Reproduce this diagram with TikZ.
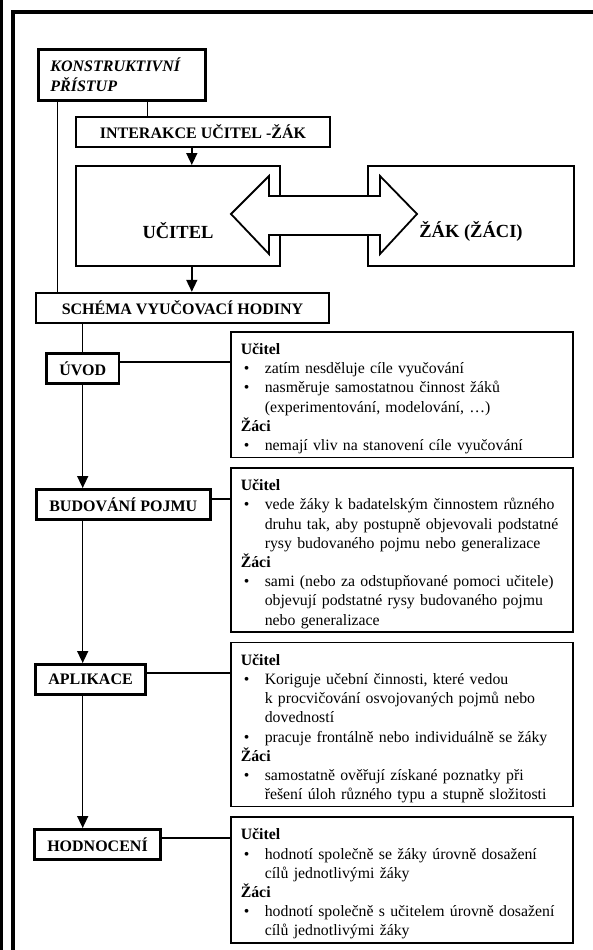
\documentclass[tikz,border=0pt]{standalone}
\usepackage{fontspec}
\setmainfont{Liberation Serif}
\usetikzlibrary{arrows.meta,positioning,calc}

% bullet line and heading inside the text boxes
\newcommand{\bpt}[1]{\par\hyphenpenalty=10000\relax\hangindent=24pt\hangafter=1\noindent\makebox[24pt][l]{\hspace{3pt}\textbullet}#1\par}
\newcommand{\who}[1]{\par\noindent\textbf{#1}\par}

\begin{document}
\begin{tikzpicture}[x=1pt, y=-1pt,
      stage/.style={rectangle, draw, line width=2.6pt, inner xsep=13pt,
        minimum height=30pt, font=\fontsize{16}{19}\selectfont\bfseries},
      head/.style={rectangle, draw, line width=2.4pt, minimum height=30pt,
        font=\fontsize{16}{19}\selectfont\bfseries},
      pane/.style={rectangle, draw, line width=2pt, minimum height=100pt,
        font=\fontsize{18.5}{22}\selectfont\bfseries},
      tbox/.style={rectangle, draw, line width=1.6pt, text width=322pt,
        inner xsep=10pt, inner ysep=3.5pt, align=left,
        font=\fontsize{15.8}{19.2}\selectfont},
      link/.style={line width=1.5pt},
      arr/.style={line width=1.5pt, -{Triangle[length=12pt, width=11pt]}}
    ]
    \useasboundingbox (0,0) rectangle (592,950);

    % --- frame ---
    \fill (0,0) rectangle (3,950);
    \draw[line width=4pt] (13,952) -- (13,12) -- (594,12);

    % --- top part ---
    \node[rectangle, draw, line width=2.8pt, anchor=north west, text width=143pt,
      inner xsep=12pt, minimum height=51pt, align=left,
      font=\fontsize{16}{20}\selectfont\bfseries\itshape] (konstr) at (37,48)
      {KONSTRUKTIVNÍ\\PŘÍSTUP};
    \node[head, minimum width=254pt] (interakce) at (203,132) {INTERAKCE UČITEL -ŽÁK};
    \node[pane, minimum width=204pt, label={[yshift=-15pt, font=\fontsize{18.5}{22}\selectfont\bfseries]center:UČITEL}] (ucitel) at (178,216) {};
    \node[pane, minimum width=206pt, label={[yshift=-15pt, font=\fontsize{18.5}{22}\selectfont\bfseries]center:ŽÁK (ŽÁCI)}] (zak) at (471,216) {};
    \node[head, minimum width=293pt] (schema) at (182.5,308) {SCHÉMA VYUČOVACÍ HODINY};

    % double arrow between teacher and pupil
    \draw[line width=1.8pt, fill=white] (231,214) -- (269,176) -- (269,196) -- (380,196)
      -- (380,176) -- (417,214) -- (380,254) -- (380,235) -- (269,235) -- (269,254) -- cycle;

    \coordinate (kx) at ($(konstr.south west)!0.65!(konstr.south east)$);
    \coordinate (ky) at ($(konstr.south west)!0.12!(konstr.south east)$);
    \coordinate (ix) at ($(interakce.south west)+(117,0)$);
    \draw[link] (kx) -- (kx |- interakce.north);
    \draw[link] (ky) -- (ky |- schema.north);
    \draw[arr] (ix) -- (ix |- ucitel.north);
    \draw[arr] (ix |- ucitel.south) -- (ix |- schema.north);

    % --- lesson stages ---
    \node[tbox, anchor=north west] (t1) at (230,331) {%
      \who{Učitel}
      \bpt{zatím nesděluje cíle vyučování}
      \bpt{nasměruje samostatnou činnost žáků\newline(experimentování, modelování, …)}
      \who{Žáci}
      \bpt{nemají vliv na stanovení cíle vyučování}};
    \node[tbox, below=9pt of t1] (t2) {%
      \who{Učitel}
      \bpt{vede žáky k badatelským činnostem různého\newline druhu tak, aby postupně objevovali podstatné\newline rysy budovaného pojmu nebo generalizace}
      \who{Žáci}
      \bpt{sami (nebo za odstupňované pomoci učitele)\newline objevují podstatné rysy budovaného pojmu\newline nebo generalizace}};
    \node[tbox, below=9pt of t2] (t3) {%
      \who{Učitel}
      \bpt{Koriguje učební činnosti, které vedou\newline k procvičování osvojovaných pojmů nebo\newline dovedností}
      \bpt{pracuje frontálně nebo individuálně se žáky}
      \who{Žáci}
      \bpt{samostatně ověřují získané poznatky při\newline řešení úloh různého typu a stupně složitosti}};
    \node[tbox, below=9pt of t3] (t4) {%
      \who{Učitel}
      \bpt{hodnotí společně se žáky úrovně dosažení\newline cílů jednotlivými žáky}
      \who{Žáci}
      \bpt{hodnotí společně s učitelem úrovně dosažení\newline cílů jednotlivými žáky}};

    \node[stage, anchor=north west] (uvod) at (45,352) {ÚVOD};
    \node[stage, anchor=north west] (budovani) at (35,488) {BUDOVÁNÍ POJMU};
    \node[stage, anchor=north west] (aplikace) at (34,663) {APLIKACE};
    \node[stage, anchor=north west] (hodnoceni) at (33,828) {HODNOCENÍ};

    \draw[link] (uvod.north |- schema.south) -- (uvod.north);
    \draw[arr] (uvod.south) -- (uvod.south |- budovani.north);
    \draw[arr] (uvod.south |- budovani.south) -- (uvod.south |- aplikace.north);
    \draw[arr] (uvod.south |- aplikace.south) -- (uvod.south |- hodnoceni.north);

    \coordinate (c1) at ([yshift=-10pt]uvod.north east);
    \coordinate (c2) at ([yshift=-11pt]budovani.north east);
    \coordinate (c3) at ([yshift=-10pt]aplikace.north east);
    \coordinate (c4) at ([yshift=-10pt]hodnoceni.north east);
    \draw[link] (c1) -- (c1 -| t1.west);
    \draw[link] (c2) -- (c2 -| t2.west);
    \draw[link] (c3) -- (c3 -| t3.west);
    \draw[link] (c4) -- (c4 -| t4.west);
  \end{tikzpicture}
\end{document}
